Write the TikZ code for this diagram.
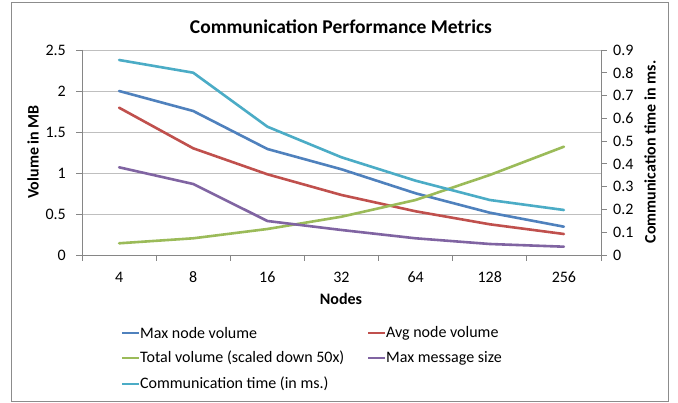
\documentclass[tikz,border=0pt]{standalone}
\usepackage{fontspec}
\setmainfont{Carlito}
\definecolor{sBlue}{HTML}{4F81BD}
\definecolor{sRed}{HTML}{C0504D}
\definecolor{sGreen}{HTML}{9BBB59}
\definecolor{sPurple}{HTML}{8064A2}
\definecolor{sCyan}{HTML}{4BACC6}
\definecolor{gridc}{HTML}{BFBFBF}
\definecolor{axisc}{HTML}{868686}
\definecolor{framec}{HTML}{8C8C8C}
\begin{document}
\begin{tikzpicture}[x=1pt,y=-1pt,
  series/.style={line width=2.6pt,line join=round,line cap=round},
  gridline/.style={draw=gridc,line width=0.9pt},
  axisline/.style={draw=axisc,line width=0.9pt},
  ticklbl/.style={font=\fontsize{16}{18}\selectfont,inner sep=0pt},
  axtitle/.style={font=\bfseries\fontsize{16}{18}\selectfont,inner sep=0pt},
  legtext/.style={font=\fontsize{16}{18}\selectfont,inner sep=0pt,anchor=west},
  legline/.style={line width=2.6pt}]
\useasboundingbox (0,0) rectangle (678,403);
\fill[white] (0,0) rectangle (678,403);
\draw[framec,line width=1pt] (11,3) rectangle (668,402);
% title
\node[font=\bfseries\fontsize{19.5}{22}\selectfont,inner sep=0pt] (title) at (341,27) {Communication Performance Metrics};
% gridlines
\foreach \v in {0.5,1,1.5,2,2.5} {
  \draw[gridline] (82,{255-82*\v}) -- (601,{255-82*\v});
}
% axes
\draw[axisline] (82,50) -- (82,255);
\draw[axisline] (601,50) -- (601,255);
\draw[axisline] (82,255) -- (601,255);
% left ticks and labels
\foreach \v/\t in {0/0,0.5/0.5,1/1,1.5/1.5,2/2,2.5/2.5} {
  \draw[axisline] (76,{255-82*\v}) -- (82,{255-82*\v});
  \node[ticklbl,anchor=east] (l\t) at (66,{255-82*\v}) {\t};
}
% right ticks and labels
\foreach \k in {0,...,9} {
  \draw[axisline] (601,{255-22.78*\k}) -- (607,{255-22.78*\k});
}
\foreach \k/\t in {0/0,1/0.1,2/0.2,3/0.3,4/0.4,5/0.5,6/0.6,7/0.7,8/0.8,9/0.9} {
  \node[ticklbl,anchor=west] (r\k) at (613,{255-22.78*\k}) {\t};
}
% x ticks
\foreach \i in {0,...,7} {
  \draw[axisline] ({82+74.14*\i},255) -- ({82+74.14*\i},261);
}
\foreach \i/\t in {0/4,1/8,2/16,3/32,4/64,5/128,6/256} {
  \node[ticklbl] (x\i) at ({82+74.14*(\i+0.5)},277) {\t};
}
% axis titles
\node[axtitle] (xtitle) at (341,299) {Nodes};
\node[axtitle,rotate=90] (ytitle) at (33,152) {Volume in MB};
\node[axtitle,rotate=90] (y2title) at (650,152) {Communication time in ms.};
% series
\draw[series,sBlue] (119.1,91) -- (193.2,111) -- (267.4,149) -- (341.5,169.3) -- (415.6,193.3) -- (489.8,212.7) -- (563.9,226.7);
\draw[series,sRed] (119.1,107.7) -- (193.2,148.3) -- (267.4,174.3) -- (341.5,195) -- (415.6,211.3) -- (489.8,224.3) -- (563.9,234);
\draw[series,sGreen] (119.1,243.3) -- (193.2,238.3) -- (267.4,229) -- (341.5,216.7) -- (415.6,200) -- (489.8,175) -- (563.9,146.7);
\draw[series,sPurple] (119.1,167.3) -- (193.2,184) -- (267.4,221) -- (341.5,230) -- (415.6,238.3) -- (489.8,244) -- (563.9,246.7);
\draw[series,sCyan] (119.1,60) -- (193.2,72.7) -- (267.4,126.7) -- (341.5,157.3) -- (415.6,180.7) -- (489.8,200) -- (563.9,210);
% legend
\draw[legline,sBlue] (122,333) -- (139,333);
\node[legtext] (lg1) at (140,333) {Max node volume};
\draw[legline,sRed] (368,333) -- (385,333);
\node[legtext] (lg2) at (386,333) {Avg node volume};
\draw[legline,sGreen] (122,358) -- (139,358);
\node[legtext] (lg3) at (140,358) {Total volume (scaled down 50x)};
\draw[legline,sPurple] (368,358) -- (385,358);
\node[legtext] (lg4) at (386,358) {Max message size};
\draw[legline,sCyan] (122,384) -- (139,384);
\node[legtext] (lg5) at (140,384) {Communication time (in ms.)};
\end{tikzpicture}
\end{document}
